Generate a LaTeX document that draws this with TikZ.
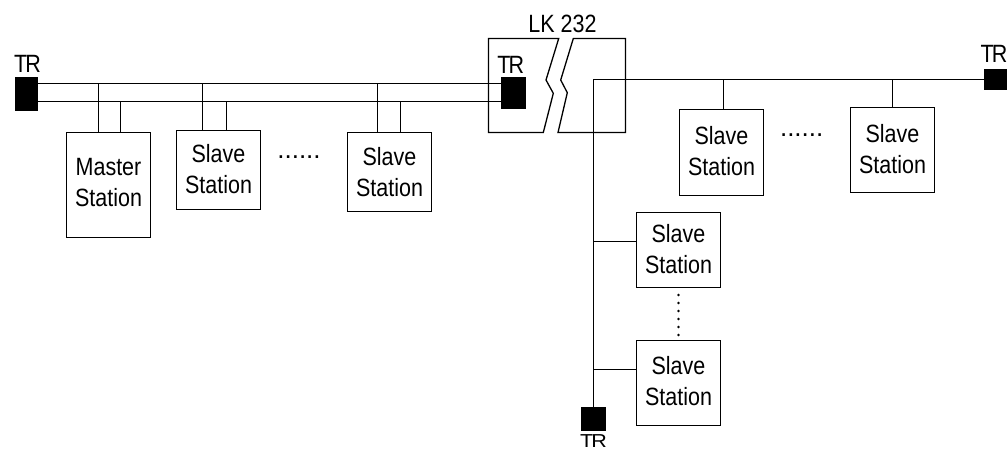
\documentclass[tikz,border=0pt]{standalone}
\usepackage{fontspec}
\setmainfont[FakeStretch=0.86]{Liberation Sans}
\newfontfamily\plainfont{Liberation Sans}
\newcommand{\stationnode}[7]{\node[station,minimum width=#4pt,minimum height=#5pt,text depth=#6pt] (#1) at (#2,#3) {#7};}
\newcommand{\trtext}{T\kern-2pt R}
\begin{document}
\begin{tikzpicture}[x=1pt,y=-1pt,line width=1.3pt,
  station/.style={draw,inner sep=0pt,align=center,text height=49pt,font=\fontsize{25}{31}\selectfont},
  term/.style={fill=black,inner sep=0pt,line width=0pt},
  lbl/.style={inner sep=0pt,anchor=base,font=\fontsize{25}{25}\selectfont},
  ellip/.style={inner sep=0pt,anchor=base,font=\plainfont\fontsize{26}{26}\selectfont},
  dotsrow/.style={dash pattern=on 0pt off 8pt,line cap=round,line width=2.8pt}]
\useasboundingbox (0,0) rectangle (1008,450);
\clip (0,0) rectangle (1008,450);
% LK 232 housing
\draw (558.7,38.5) -- (488.5,38.5) -- (488.5,132.5) -- (543.3,132.5) -- (553.3,93.3) -- (546,80) -- cycle;
\draw (573.3,38.5) -- (625.5,38.5) -- (625.5,132.5) -- (558,132.5) -- (567.3,92.7) -- (560.7,80) -- cycle;
% terminators
\node[term,minimum width=23.5pt,minimum height=34pt] (trL) at (26.3,94) {};
\node[term,minimum width=24.5pt,minimum height=32pt] (trK) at (513.7,93) {};
\node[term,minimum width=23pt,minimum height=21pt] (trR) at (995.5,79.7) {};
\node[term,minimum width=24.5pt,minimum height=24pt] (trB) at (593.5,418.7) {};
% labels
\node[lbl] (ltrL) at (27.5,72) {\trtext};
\node[lbl] (ltrK) at (510.8,73) {\trtext};
\node[lbl] (ltrR) at (994,62) {\trtext};
\node[lbl] (ltrB) at (593.5,447.6) {\scalebox{1}[0.75]{\trtext}};
\node[lbl] (lk) at (562.5,32) {LK 232};
% stations
\stationnode{m}{108.5}{185}{84}{105}{6}{Master\\Station}
\stationnode{s1}{218.5}{170}{84}{79}{2}{Slave\\Station}
\stationnode{s2}{389.5}{172}{84}{79}{0}{Slave\\Station}
\stationnode{s3}{721.5}{152.5}{84}{86}{3}{Slave\\Station}
\stationnode{s4}{892.5}{150}{84}{85}{2}{Slave\\Station}
\stationnode{s5}{678.5}{250}{84}{75}{2}{Slave\\Station}
\stationnode{s6}{678.5}{383}{84}{85}{5}{Slave\\Station}
% dots
\node[ellip] (d1) at (299,158) {......};
\node[ellip] (d2) at (801.7,136) {......};
\coordinate (d3a) at (678.5,295);
\coordinate (d3b) at (678.5,335.5);
\draw[dotsrow] (d3a) -- (d3b);
% left double bus
\coordinate (busA) at (0,83.5);
\coordinate (busB) at (0,101.5);
\draw (trL.east |- busA) -- (trK.west |- busA);
\draw (trL.east |- busB) -- (trK.west |- busB);
\foreach \n/\xa/\xb in {m/98.5/120.5,s1/202.5/226.5,s2/377.5/400.5}{
  \draw (\xa,83.5) -- (\xa,83.5 |- \n.north);
  \draw (\xb,101.5) -- (\xb,101.5 |- \n.north);
}
% right bus
\coordinate (corner) at (593.5,79.5);
\draw (trB.north -| corner) -- (corner) -- (corner -| trR.west);
\draw (723.5,79.5) -- (723.5,79.5 |- s3.north);
\draw (892.5,79.5) -- (892.5,79.5 |- s4.north);
\draw (593.5,241.5) -- (s5.west |- 593.5,241.5);
\draw (593.5,369.5) -- (s6.west |- 593.5,369.5);
\end{tikzpicture}
\end{document}
